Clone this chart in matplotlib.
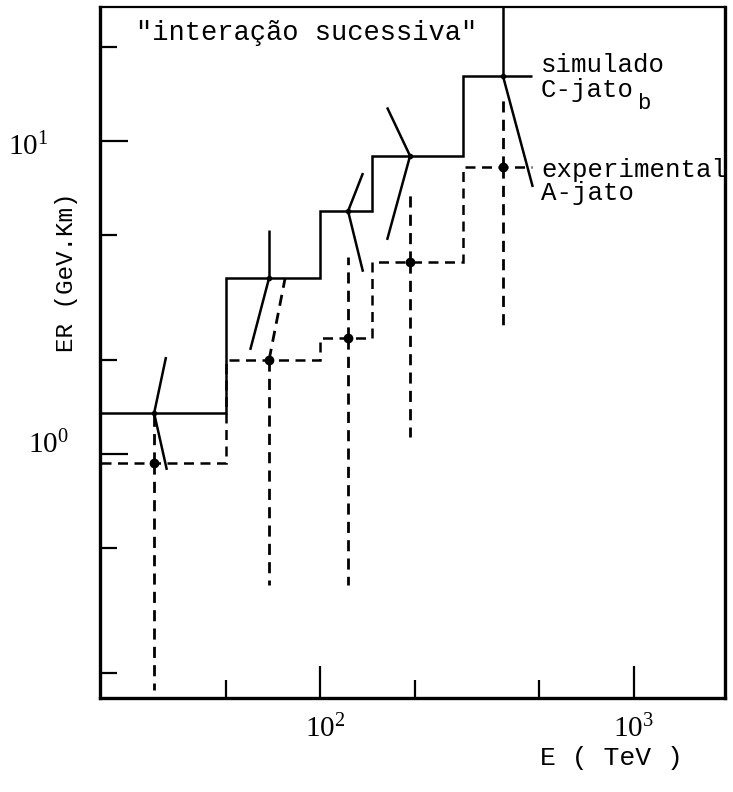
import matplotlib
matplotlib.use("Agg")
import matplotlib.pyplot as plt
from matplotlib.ticker import NullFormatter, FixedLocator

# ---------------- data ----------------
bin_edges = [20, 50, 100, 146, 285, 473]            # E (TeV)
sim_hist = [1.35, 3.65, 5.97, 8.96, 16.1]           # simulado C-jato_b
exp_hist = [0.936, 2.0, 2.35, 4.1, 8.26]            # experimental A-jato

pt_E = [29.6, 68.8, 122.8, 193.5, 382.7]
sim_pts = [1.35, 3.65, 5.97, 8.96, 16.1]
exp_pts = [0.936, 2.0, 2.35, 4.1, 8.26]

# simulated (solid) error strokes: end points
sim_up_E = [32.3, 68.8, 137.0, 163.5, 382.7]
sim_up_V = [2.04, 5.2, 7.9, 12.8, 40.0]
sim_lo_E = [32.5, 59.9, 137.0, 163.5, 476.0]
sim_lo_V = [0.889, 2.15, 3.82, 4.83, 7.13]

# experimental (dashed) error strokes: end points
exp_up_E = [29.6, 77.4, 122.8, 193.5, 382.7]
exp_up_V = [1.35, 3.65, 4.26, 6.87, 13.5]
exp_lo_E = [29.6, 68.8, 122.8, 193.5, 382.7]
exp_lo_V = [0.176, 0.381, 0.381, 1.13, 2.55]

x_major = [100, 1000]
x_minor = [50, 200, 500]
y_major = [1, 10]
y_minor = [0.2, 0.5, 2, 5, 20]
x_tick_labels = [r"$\mathregular{10^2}$", r"$\mathregular{10^3}$"]
y_tick_labels = [r"$\mathregular{10^0}$", r"$\mathregular{10^1}$"]

# ---------------- figure ----------------
W, H = 733, 792
fig = plt.figure(figsize=(W / 100, H / 100), dpi=100)
ax = fig.add_axes([100 / W, 1 - 698 / H, 625 / W, 691 / H])
ax.set_xscale("log")
ax.set_yscale("log")
ax.set_xlim(19.9, 1950)
ax.set_ylim(0.166, 26.8)

dash = (0, (4, 2.6))
ax.stairs(sim_hist, bin_edges, baseline=None, color="black", lw=1.8)
ax.stairs(exp_hist, bin_edges, baseline=None, color="black", lw=1.8, linestyle=dash)

for i in range(len(pt_E)):
    ax.plot([pt_E[i], sim_up_E[i]], [sim_pts[i], sim_up_V[i]], color="black", lw=1.8,
            solid_capstyle="butt")
    ax.plot([pt_E[i], sim_lo_E[i]], [sim_pts[i], sim_lo_V[i]], color="black", lw=1.8,
            solid_capstyle="butt")
    ax.plot([pt_E[i], exp_up_E[i]], [exp_pts[i], exp_up_V[i]], color="black", lw=2.0,
            linestyle=dash)
    ax.plot([pt_E[i], exp_lo_E[i]], [exp_pts[i], exp_lo_V[i]], color="black", lw=2.0,
            linestyle=dash)

ax.plot(pt_E, exp_pts, "o", color="black", ms=6, zorder=5)
ax.plot(pt_E, sim_pts, "o", color="black", ms=3, zorder=5)

# ticks
ax.xaxis.set_major_locator(FixedLocator(x_major))
ax.xaxis.set_minor_locator(FixedLocator(x_minor))
ax.yaxis.set_major_locator(FixedLocator(y_major))
ax.yaxis.set_minor_locator(FixedLocator(y_minor))
for a in (ax.xaxis, ax.yaxis):
    a.set_major_formatter(NullFormatter())
    a.set_minor_formatter(NullFormatter())
ax.tick_params(axis="both", which="both", direction="in", width=1.6, color="black",
               top=False, right=False)
ax.tick_params(axis="x", which="major", length=23)
ax.tick_params(axis="x", which="minor", length=13)
ax.tick_params(axis="y", which="major", length=20)
ax.tick_params(axis="y", which="minor", length=12)

for side in ["left", "bottom", "right"]:
    ax.spines[side].set_linewidth(2.4)
ax.spines["top"].set_linewidth(1.6)

serif = "Liberation Serif"
mono = "Liberation Mono"


def ftext(x, y, s, fam=mono, size=18.5, **kw):
    fig.text(x / W, 1 - y / H, s, family=fam, fontsize=size, **kw)


# tick labels (pixel positions of left edge / baseline)
ftext(305, 737, x_tick_labels[0], fam=serif, size=21, ha="left", va="baseline")
ftext(613, 737, x_tick_labels[1], fam=serif, size=21, ha="left", va="baseline")
ftext(8, 155, y_tick_labels[1], fam=serif, size=21, ha="left", va="baseline")
ftext(28, 453, y_tick_labels[0], fam=serif, size=21, ha="left", va="baseline")

# axis labels and annotations
ftext(66, 272, "ER (GeV.Km)", size=17.5, rotation=90, ha="center", va="center")
ftext(611, 765, "E ( TeV )", size=19, ha="center", va="baseline")
ftext(136, 40, '"interação sucessiva"', size=19.5, ha="left", va="baseline")
ftext(541, 72, "simulado", ha="left", va="baseline")
ftext(541, 97, "C-jato", ha="left", va="baseline")
ftext(637, 109, "b", size=16, ha="left", va="baseline")
ftext(541, 177, "experimental", ha="left", va="baseline")
ftext(541, 200, "A-jato", ha="left", va="baseline")

fig.savefig("out.png", dpi=100)
